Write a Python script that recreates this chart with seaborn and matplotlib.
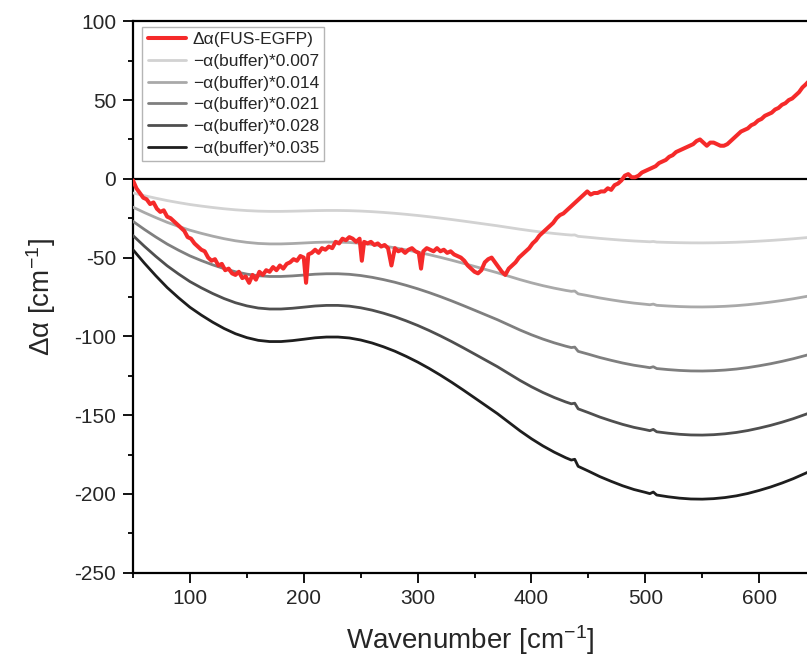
import numpy as np
import pandas as pd
import matplotlib
matplotlib.use("Agg")
import matplotlib.pyplot as plt
import seaborn as sns
from matplotlib.ticker import MultipleLocator

# ---------------- data ----------------
# Δα(FUS-EGFP) spectrum (red)
red_x = [50, 53, 56, 59, 62, 65, 68, 71, 74, 77, 80, 83, 86, 89, 92, 95, 98, 101, 104, 107,
         110, 113, 116, 119, 122, 125, 128, 131, 134, 137, 140, 143, 146, 149, 152, 155, 158,
         161, 164, 167, 170, 173, 176, 179, 182, 185, 188, 191, 194, 197, 200, 202, 204, 207,
         210, 213, 216, 219, 222, 225, 228, 231, 234, 237, 240, 243, 246, 249, 251, 253, 256,
         259, 262, 265, 268, 271, 274, 277, 280, 283, 286, 289, 292, 295, 298, 301, 303, 305,
         308, 311, 314, 317, 320, 323, 326, 329, 332, 335, 338, 341, 344, 347, 350, 353, 356,
         359, 362, 365, 368, 371, 374, 377, 380, 383, 386, 389, 392, 395, 398, 401, 404, 407,
         410, 413, 416, 419, 422, 425, 428, 431, 434, 437, 440, 443, 446, 449, 452, 455, 458,
         461, 464, 467, 470, 473, 476, 479, 482, 485, 488, 491, 494, 497, 500, 503, 506, 509,
         512, 515, 518, 521, 524, 527, 530, 533, 536, 539, 542, 545, 548, 551, 554, 557, 560,
         563, 566, 569, 572, 575, 578, 581, 584, 587, 590, 593, 596, 599, 602, 605, 608, 611,
         614, 617, 620, 623, 626, 629, 632, 635, 638, 641, 645]
red_y = [-1, -6, -9, -12, -13, -16, -15, -19, -21, -20, -24, -25, -27, -29, -31, -33, -37, -38,
         -41, -43, -45, -46, -50, -52, -51, -55, -54, -58, -57, -60, -61, -59, -63, -62, -66,
         -61, -64, -59, -61, -58, -59, -56, -58, -55, -57, -54, -53, -51, -52, -49, -50, -66,
         -48, -47, -45, -47, -44, -45, -43, -44, -40, -41, -38, -39, -37, -38, -40, -38, -52,
         -40, -41, -40, -42, -41, -43, -42, -44, -55, -44, -46, -45, -47, -45, -44, -46, -47,
         -57, -46, -44, -45, -46, -44, -46, -45, -47, -46, -48, -49, -50, -52, -55, -57, -59,
         -60, -58, -53, -51, -50, -53, -56, -59, -61, -57, -55, -53, -50, -48, -46, -44, -41,
         -39, -36, -34, -32, -30, -28, -25, -23, -22, -20, -18, -16, -14, -12, -10, -8, -10,
         -9, -9, -8, -8, -6, -7, -4, -3, -1, 2, 3, 1, 1, 2, 4, 5, 6, 7, 8, 10, 11, 12, 14, 15, 17,
         18, 19, 20, 21, 22, 24, 25, 23, 21, 23, 23, 22, 21, 21, 22, 24, 26, 28, 30, 31, 32, 34,
         35, 37, 38, 40, 41, 42, 44, 45, 47, 48, 50, 51, 53, 55, 58, 60, 63]

# α(buffer) absorption (cm^-1), plotted as −α(buffer)*factor
buf_x = [50, 60, 70, 80, 90, 100, 110, 120, 130, 140, 150, 160, 170, 180, 190, 200, 210, 220,
         230, 240, 250, 260, 270, 280, 290, 300, 310, 320, 330, 340, 350, 360, 370, 380, 390,
         400, 410, 420, 430, 435, 438, 441, 450, 460, 470, 480, 490, 500, 504, 507, 510, 520,
         530, 540, 550, 560, 570, 580, 590, 600, 610, 620, 630, 645]
buf_alpha = [1286, 1529, 1757, 1971, 2157, 2329, 2471, 2600, 2714, 2809, 2880, 2929, 2951, 2951,
             2934, 2909, 2883, 2869, 2869, 2886, 2923, 2977, 3046, 3126, 3220, 3323, 3437, 3560,
             3691, 3829, 3971, 4114, 4257, 4414, 4571, 4714, 4843, 4957, 5057, 5100, 5086, 5214,
             5300, 5400, 5486, 5566, 5634, 5686, 5709, 5680, 5734, 5766, 5791, 5806, 5809, 5800,
             5780, 5749, 5706, 5651, 5589, 5517, 5437, 5300]
factors = [0.007, 0.014, 0.021, 0.028, 0.035]
factor_labels = ["0.007", "0.014", "0.021", "0.028", "0.035"]
gray_colors = ["#d2d2d2", "#a9a9a9", "#7f7f7f", "#4f4f4f", "#1e1e1e"]
red_color = "#f52a2a"

# ---------------- figure ----------------
sns.set_style("ticks")
plt.rcParams["font.family"] = ["Liberation Sans", "DejaVu Sans"]
plt.rcParams["mathtext.fontset"] = "custom"
plt.rcParams["mathtext.rm"] = "Liberation Sans"
plt.rcParams["mathtext.it"] = "Liberation Sans:italic"
plt.rcParams["axes.unicode_minus"] = False

fig = plt.figure(figsize=(8.07, 6.63), dpi=100)
ax = fig.add_axes([0.1648, 0.1362, 0.8352, 0.8317])

red_df = pd.DataFrame({"x": red_x, "y": red_y})
sns.lineplot(data=red_df, x="x", y="y", ax=ax, color=red_color, lw=2.9,
             label="\u0394\u03b1(FUS-EGFP)", zorder=5, sort=False)

buf = np.array(buf_alpha, dtype=float)
for f, lab, c in zip(factors, factor_labels, gray_colors):
    df = pd.DataFrame({"x": buf_x, "y": -buf * f})
    sns.lineplot(data=df, x="x", y="y", ax=ax, color=c, lw=2.0,
                 label="\u2212\u03b1(buffer)*" + lab, zorder=3, sort=False)

ax.axhline(0, color="black", lw=1.6, zorder=4)

ax.set_xlim(50, 642)
ax.set_ylim(-250, 100)
ax.xaxis.set_major_locator(MultipleLocator(100))
ax.xaxis.set_minor_locator(MultipleLocator(50))
ax.yaxis.set_major_locator(MultipleLocator(50))
ax.yaxis.set_minor_locator(MultipleLocator(25))
ax.tick_params(axis="both", which="major", direction="out", length=7, width=1.3,
               labelsize=15, pad=5, color="black")
ax.tick_params(axis="both", which="minor", direction="out", length=3.5, width=1.3,
               color="black")

for s in ["left", "top", "bottom"]:
    ax.spines[s].set_visible(True)
    ax.spines[s].set_linewidth(1.6)
    ax.spines[s].set_color("black")
ax.spines["right"].set_visible(False)

ax.set_xlabel("Wavenumber [cm$^{-1}$]", fontsize=20, labelpad=11)
ax.set_ylabel("\u0394\u03b1 [cm$^{-1}$]", fontsize=20, labelpad=12)

leg = ax.legend(loc="upper left", bbox_to_anchor=(0.014, 0.99), borderaxespad=0,
                fontsize=12.5, frameon=True, fancybox=False, handlelength=2.2,
                handletextpad=0.4, labelspacing=0.38, borderpad=0.3)
leg.get_frame().set_edgecolor("#b5b5b5")
leg.get_frame().set_linewidth(1.0)
leg.get_frame().set_alpha(1)
for line in leg.get_lines():
    line.set_linewidth(2.9 if line.get_color() == red_color else 2.0)

fig.savefig("out.png", dpi=100)
